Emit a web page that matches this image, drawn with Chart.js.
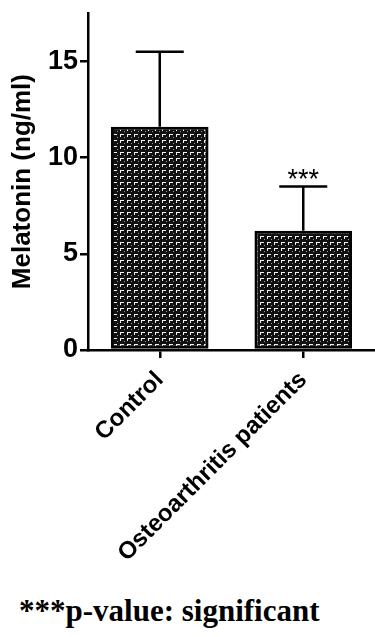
<!DOCTYPE html>
<html>
<head>
<meta charset="utf-8">
<script src="https://cdn.jsdelivr.net/npm/chart.js@4/dist/chart.umd.min.js"></script>
<style>
  html, body { margin: 0; padding: 0; background: #fff; }
  #wrap { position: relative; width: 375px; height: 590px; margin-top: -5px; }
  #note {
    font-family: "Liberation Serif", "Times New Roman", serif;
    font-weight: bold; font-size: 31px; color: #000;
    padding-left: 19px; margin-top: 8px; white-space: nowrap;
  }
</style>
</head>
<body>
<div id="wrap"><canvas id="chart"></canvas></div>
<div id="note">***p-value: significant</div>
<script>
const categories = ["Control", "Osteoarthritis patients"];
const means = [11.6, 6.2];
const sdUp = [3.9, 2.3];
const stars = ["", "***"];
const yTicks = [0, 5, 10, 15];

const ctx = document.getElementById("chart").getContext("2d");

// dark hatch with small white "Γ" marks
const tile = document.createElement("canvas");
tile.width = 7; tile.height = 6;
const t = tile.getContext("2d");
t.fillStyle = "#111";
t.fillRect(0, 0, 7, 6);
t.fillStyle = "#f2f2f2";
t.fillRect(1, 1, 4, 1);
t.fillRect(1, 2, 1, 2);
t.fillStyle = "#999";
t.fillRect(5, 4, 1, 1);
const hatch = ctx.createPattern(tile, "repeat");

const errorBars = {
  id: "errorBars",
  afterDatasetsDraw(chart) {
    const c = chart.ctx;
    const y = chart.scales.y;
    const meta = chart.getDatasetMeta(0);
    c.save();
    c.strokeStyle = "#000";
    c.lineWidth = 2.5;
    meta.data.forEach((bar, i) => {
      const top = y.getPixelForValue(means[i] + sdUp[i]);
      c.beginPath();
      c.moveTo(bar.x, bar.y);
      c.lineTo(bar.x, top);
      c.moveTo(bar.x - 24, top);
      c.lineTo(bar.x + 24, top);
      c.stroke();
      if (stars[i]) {
        c.fillStyle = "#000";
        c.font = "27px 'Liberation Sans', Arial";
        c.textAlign = "center";
        c.textBaseline = "alphabetic";
        c.fillText(stars[i], bar.x, top + 2);
      }
    });
    c.restore();
  }
};

new Chart(ctx, {
  type: "bar",
  data: {
    labels: categories,
    datasets: [{
      data: means,
      backgroundColor: hatch,
      borderColor: "#000",
      borderWidth: 3,
      borderSkipped: false,
      barPercentage: 0.68,
      categoryPercentage: 1
    }]
  },
  options: {
    responsive: true,
    maintainAspectRatio: false,
    animation: false,
    layout: { padding: { top: 0, right: 0, left: 7, bottom: 0 } },
    plugins: { legend: { display: false }, tooltip: { enabled: false } },
    scales: {
      x: {
        grid: { offset: false, drawOnChartArea: false, drawTicks: true, tickLength: 8, color: "#000", lineWidth: 2.5 },
        border: { display: true, color: "#000", width: 2.5 },
        ticks: {
          color: "#000",
          minRotation: 45, maxRotation: 45,
          padding: 8,
          font: { family: "'Liberation Sans', Arial", size: 24, weight: "bold" }
        },
        afterFit(scale) { scale.height = 235; }
      },
      y: {
        min: 0, max: 17.5,
        afterBuildTicks(scale) { scale.ticks = yTicks.map(v => ({ value: v })); },
        grid: { drawOnChartArea: false, drawTicks: true, tickLength: 8, color: "#000", lineWidth: 2.5 },
        border: { display: true, color: "#000", width: 2.5 },
        ticks: {
          color: "#000",
          padding: 2,
          font: { family: "'Liberation Sans', Arial", size: 27, weight: "bold" }
        },
        title: {
          display: true,
          text: "Melatonin (ng/ml)",
          color: "#000",
          padding: { top: 0, bottom: 2 },
          font: { family: "'Liberation Sans', Arial", size: 26, weight: "bold" }
        },
        afterFit(scale) { scale.width = 81; }
      }
    }
  },
  plugins: [errorBars]
});
</script>
</body>
</html>
